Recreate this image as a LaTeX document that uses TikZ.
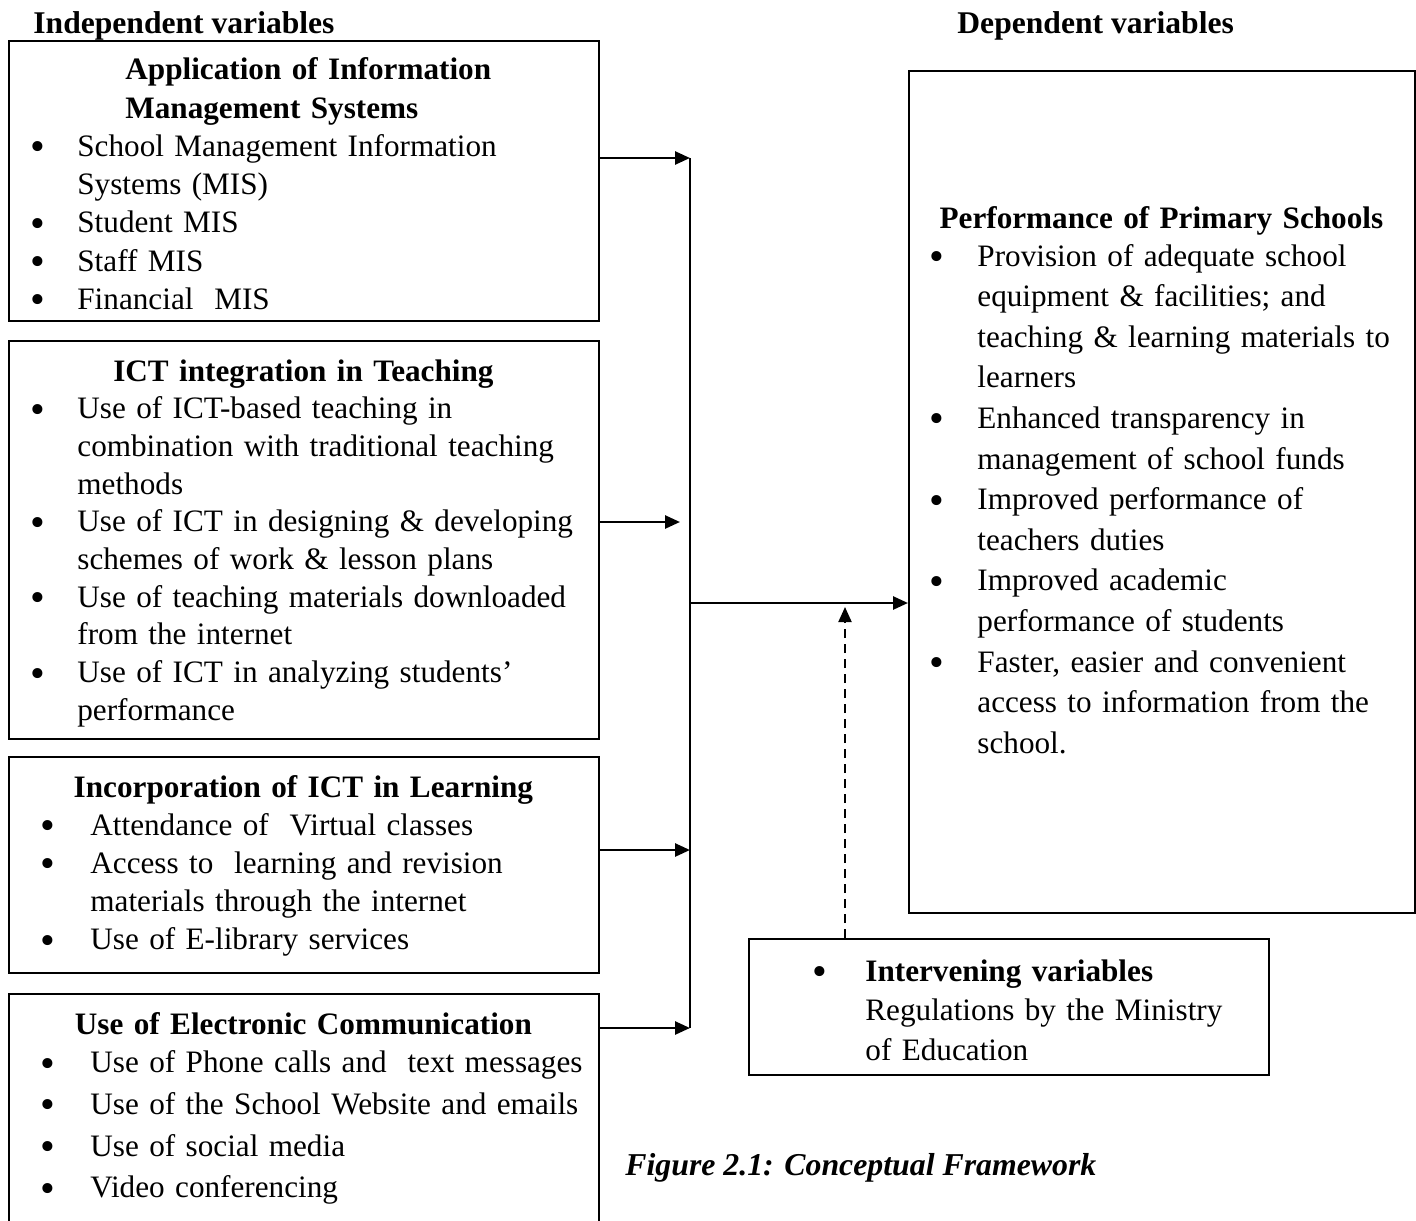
\documentclass[tikz,border=0pt]{standalone}
\usepackage{fontspec}
\setmainfont{Liberation Serif}
\usetikzlibrary{arrows.meta,positioning}

\newlength{\bulpos}
\newlength{\txtpos}
\newcommand{\setind}[2]{\setlength{\bulpos}{#1}\setlength{\txtpos}{#2}}
\newcommand{\bul}{\raisebox{-2.2pt}{\scalebox{1.35}{\textbullet}}}
\newcommand{\firstitm}{\hangindent=\txtpos\hangafter=1\noindent\hspace*{\bulpos}\makebox[\dimexpr\txtpos-\bulpos\relax][l]{\bul}}
\newcommand{\itm}{\par\firstitm}
\newcommand{\nl}{\newline}

\tikzset{
    frame/.style={draw, line width=1.2pt, inner sep=0pt, anchor=north west},
    txt/.style={anchor=base west, inner sep=0pt, align=left, font=\fontsize{15.6pt}{#1}\selectfont},
    head/.style={anchor=base west, inner sep=0pt, font=\fontsize{15.8pt}{19pt}\selectfont\bfseries},
    conn/.style={line width=1.3pt},
    inter/.style={line width=1pt, dash pattern=on 4.5pt off 3pt}
}

\begin{document}
\begin{tikzpicture}[x=0.5pt,y=-0.5pt,>={Triangle[length=7.5pt,width=6.5pt]}]
        \clip (0,0) rectangle (1416,1220);
        \useasboundingbox (0,0) rectangle (1416,1220);
        % titles of the two columns
        \node[head] (indep) at (33,34) {Independent variables};
        \node[head] (dep) at (957,34) {Dependent variables};
        % frames
        \node[frame, minimum width=295pt, minimum height=140pt] (ams) at (8,40) {};
        \node[frame, minimum width=295pt, minimum height=199pt] (ict) at (8,340) {};
        \node[frame, minimum width=295pt, minimum height=108pt] (lrn) at (8,756) {};
        \node[frame, minimum width=295pt, minimum height=121pt] (ecom) at (8,993) {};
        \node[frame, minimum width=253pt, minimum height=421pt] (perf) at (908,70) {};
        \node[frame, minimum width=260pt, minimum height=68pt] (intv) at (748,938) {};
        % texts
        \node[txt=19.1pt, text width=295pt] (amstxt) at (8,80) {\setind{11.2pt}{34.5pt}%
            {\bfseries\leftskip=58.5pt Application of Information\nl Management Systems\par}
            \itm School Management Information\nl Systems (MIS)
            \itm Student MIS
            \itm Staff MIS
            \itm Financial\ \ MIS\par};
        \node[txt=18.85pt, text width=295pt] (icttxt) at (8,381) {\setind{11.2pt}{34.5pt}%
            {\centering\bfseries ICT integration in Teaching\par}
            \itm Use of ICT-based teaching in\nl combination with traditional teaching\nl methods
            \itm Use of ICT in designing \& developing\nl schemes of work \& lesson plans
            \itm Use of teaching materials downloaded\nl from the internet
            \itm Use of ICT in analyzing students'\nl performance\par};
        \node[txt=19.1pt, text width=295pt] (lrntxt) at (8,797) {\setind{16.2pt}{41pt}%
            {\centering\bfseries Incorporation of ICT in Learning\par}
            \itm Attendance of\ \ Virtual classes
            \itm Access to\ \ learning and revision\nl materials through the internet
            \itm Use of E-library services\par};
        \node[txt=20.8pt, text width=295pt] (ecomtxt) at (8,1034) {\setind{16.2pt}{41pt}%
            {\centering\bfseries Use of Electronic Communication\par}\vspace{-1.35pt}
            \itm Use of Phone calls and\ \ text messages
            \itm Use of the School Website and emails
            \itm Use of social media
            \itm Video conferencing\par};
        \node[txt=20.3pt, text width=253pt] (perftxt) at (908,228) {\setind{10.7pt}{34.5pt}%
            {\centering\bfseries Performance of Primary Schools\par}\vspace{-1.3pt}
            \itm Provision of adequate school\nl equipment \& facilities; and\nl teaching \& learning materials to\nl learners
            \itm Enhanced transparency in\nl management of school funds
            \itm Improved performance of\nl teachers duties
            \itm Improved academic\nl performance of students
            \itm Faster, easier and convenient\nl access to information from the\nl school.\par};
        \node[txt=19.75pt, text width=260pt] (intvtxt) at (748,981) {\setind{32.2pt}{58.5pt}%
            \firstitm\textbf{Intervening variables}\nl Regulations by the Ministry\nl of Education\par};
        \node[head, font=\fontsize{15.9pt}{19pt}\selectfont\bfseries\itshape] (cap) at (625,1175) {Figure 2.1: Conceptual Framework};
        % connectors
        \coordinate (jtop) at (690,158);
        \coordinate (jict) at (680,522);
        \coordinate (jlrn) at (690,850);
        \coordinate (jbot) at (690,1028);
        \coordinate (jmid) at (690,603);
        \coordinate (dtop) at (845,607);
        \draw[conn] (jtop)--(jbot);
        \draw[conn,->] (ams.east |- jtop)--(jtop);
        \draw[conn,->] (ict.east |- jict)--(jict);
        \draw[conn,->] (lrn.east |- jlrn)--(jlrn);
        \draw[conn,->] (ecom.east |- jbot)--(jbot);
        \draw[conn,->] (jmid)--(perf.west |- jmid);
        \draw[inter,->] (intv.north -| dtop)--(dtop);
\end{tikzpicture}
\end{document}
